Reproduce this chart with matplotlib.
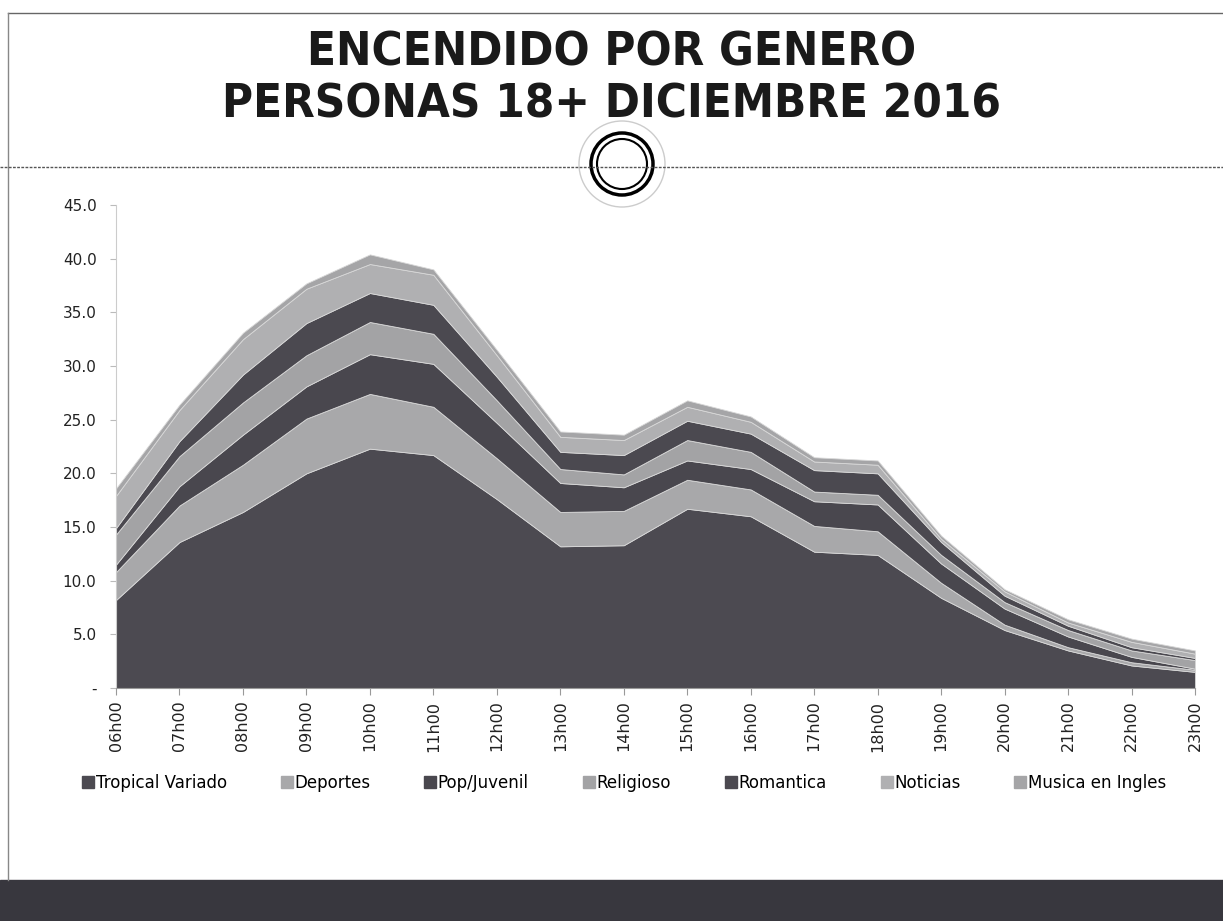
import matplotlib.pyplot as plt
from matplotlib.patches import Circle, Rectangle
from matplotlib.lines import Line2D

# datos (rating por hora, personas 18+)
horas = ["06h00", "07h00", "08h00", "09h00", "10h00", "11h00", "12h00", "13h00", "14h00",
         "15h00", "16h00", "17h00", "18h00", "19h00", "20h00", "21h00", "22h00", "23h00"]
generos = ["Tropical Variado", "Deportes", "Pop/Juvenil", "Religioso",
           "Romantica", "Noticias", "Musica en Ingles"]

tropical = [8.2, 13.6, 16.4, 20.0, 22.3, 21.7, 17.6, 13.2, 13.3, 16.7, 16.0, 12.7, 12.4, 8.4, 5.4, 3.5, 2.1, 1.5]
deportes = [2.6, 3.4, 4.4, 5.1, 5.1, 4.5, 3.8, 3.2, 3.2, 2.7, 2.5, 2.4, 2.2, 1.4, 0.5, 0.3, 0.3, 0.2]
pop = [0.7, 1.8, 2.8, 3.0, 3.7, 4.0, 3.3, 2.7, 2.2, 1.8, 1.9, 2.3, 2.5, 1.8, 1.5, 1.0, 0.5, 0.1]
religioso = [2.8, 2.8, 3.0, 2.9, 3.0, 2.8, 2.1, 1.3, 1.2, 1.9, 1.6, 0.9, 0.9, 0.8, 0.6, 0.6, 0.6, 0.8]
romantica = [0.6, 1.4, 2.6, 3.0, 2.7, 2.7, 2.2, 1.6, 1.8, 1.8, 1.7, 2.0, 2.0, 1.2, 0.6, 0.4, 0.3, 0.2]
noticias = [3.0, 2.9, 3.3, 3.2, 2.7, 2.8, 2.0, 1.4, 1.4, 1.3, 1.1, 0.8, 0.8, 0.3, 0.4, 0.3, 0.5, 0.4]
musica = [0.7, 0.5, 0.6, 0.5, 0.9, 0.5, 0.5, 0.5, 0.5, 0.6, 0.5, 0.4, 0.4, 0.3, 0.2, 0.3, 0.3, 0.3]

colores = ["#4c4a51", "#a8a8aa", "#49474e", "#a3a3a5", "#4b4950", "#b0b0b2", "#a5a5a7"]

fig = plt.figure(figsize=(12.23, 9.21), dpi=100)

# marco de la pagina escaneada
fig.add_artist(Line2D([8 / 1223, 1], [1 - 13 / 921, 1 - 13 / 921], color="#666666", lw=1))
fig.add_artist(Line2D([8 / 1223, 8 / 1223], [1 - 13 / 921, 1 - 880 / 921], color="#888888", lw=1))
fig.add_artist(Line2D([0, 1], [1 - 167 / 921, 1 - 167 / 921], color="#555555", lw=1, ls=(0, (2, 1))))
fig.add_artist(Rectangle((0, 0), 1, 41 / 921, color="#38373e", transform=fig.transFigure))

fig.text(0.5, 1 - 53 / 921, "ENCENDIDO POR GENERO", ha="center", va="center",
         fontsize=34, fontweight="bold", fontstretch="condensed", family="DejaVu Sans",
         color="#1a1a1a")
fig.text(0.5, 1 - 105 / 921, "PERSONAS 18+ DICIEMBRE 2016", ha="center", va="center",
         fontsize=34, fontweight="bold", fontstretch="condensed", family="DejaVu Sans",
         color="#1a1a1a")

ax = fig.add_axes([116 / 1223, 1 - 688 / 921, (1195 - 116) / 1223, (688 - 205) / 921])
ax.patch.set_alpha(0)
x = list(range(len(horas)))
ax.stackplot(x, tropical, deportes, pop, religioso, romantica, noticias, musica,
             colors=colores, labels=generos, edgecolor="#d8d8d8", linewidth=0.6)
ax.set_xlim(0, len(horas) - 1)
ax.set_ylim(0, 45)
ax.set_yticks(range(0, 46, 5))
ax.set_yticklabels(["-"] + [f"{v:.1f}" for v in range(5, 46, 5)], fontsize=11, color="#222222")
ax.set_xticks(x)
ax.set_xticklabels(horas, rotation=90, fontsize=11.5, color="#222222")
ax.tick_params(axis="y", length=4, color="#bbbbbb", pad=10)
ax.tick_params(axis="x", length=5, color="#999999", pad=4)
for s in ["top", "right"]:
    ax.spines[s].set_visible(False)
ax.spines["left"].set_color("#cccccc")
ax.spines["bottom"].set_color("#999999")

# anillo central (encima del grafico)
cx, cy = 622 / 1223, 1 - 164 / 921
ax_c = fig.add_axes([cx - 50 / 1223, cy - 50 / 921, 100 / 1223, 100 / 921])
ax_c.set_xlim(-50, 50)
ax_c.set_ylim(-50, 50)
ax_c.axis("off")
ax_c.add_patch(Circle((0, 0), 43, fc="white", ec="#cccccc", lw=1))
ax_c.add_patch(Circle((0, 0), 31, fc="white", ec="black", lw=2.5))
ax_c.add_patch(Circle((0, 0), 25, fc="none", ec="black", lw=1.5))

handles = [Line2D([], [], marker="s", ls="", color=c, markersize=8) for c in colores]
fig.legend(handles, generos, loc="center", bbox_to_anchor=(0.51, 1 - 783 / 921), ncol=7,
           frameon=False, fontsize=12, handletextpad=0.05, columnspacing=3.2, handlelength=0.8)

fig.savefig("out.png", dpi=100)
